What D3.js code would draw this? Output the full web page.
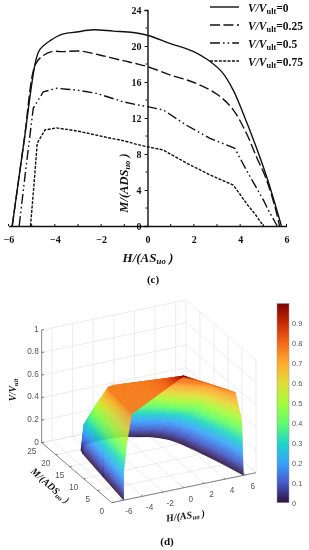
<!DOCTYPE html>
<html>
<head>
<meta charset="utf-8">
<style>
	html, body { margin: 0; padding: 0; background: #fff; }
	svg { display: block; filter: blur(0.35px); }
	.serif { font-family: "Liberation Serif", serif; font-weight: bold; fill: #111; }
	.sans { font-family: "Liberation Sans", sans-serif; fill: #555; font-size: 8.2px; }
	.barLabel { font-family: "Liberation Sans", sans-serif; fill: #555; font-size: 7.4px; }
</style>
<script src="https://cdn.jsdelivr.net/npm/d3@7"></script>
</head>
<body>
<div id="chartDiv"></div>
<script>
; (function () {

	// curves, same number of points so panel (d) can mesh them
	var h0 = [-5.84, -5.34, -4.82, -4.65, -4.2, -3.7, -3.06, -2.35, -1.48, -0.62, 0, 0.96, 1.97, 2.55, 3.2, 3.7, 4.13, 4.63, 5.14, 5.78];
	var m0 = [0, 9.2, 18.4, 19.6, 20.6, 21.3, 21.55, 21.8, 21.65, 21.5, 21.2, 20.3, 19.4, 18.55, 17.15, 15.1, 12.5, 9.2, 5.5, 0];
	var h25 = [-5.84, -5.34, -4.85, -4.58, -4.14, -3.64, -2.92, -2.06, -1.05, -0.5, 0, 0.96, 2.1, 3.05, 3.7, 4.27, 4.7, 5.1, 5.5, 5.7];
	var m25 = [0, 9.2, 17.9, 18.8, 19.37, 19.37, 19.44, 19, 18.37, 18.05, 17.7, 16.8, 15.85, 14.55, 12.9, 10.3, 7.7, 5.4, 2.15, 0];
	var h50 = [-5.54, -5.24, -4.93, -4.5, -3.93, -3.5, -3.06, -2.2, -1.05, -0.5, 0, 0.68, 1.68, 2.7, 3.77, 4.27, 4.6, 5, 5.25, 5.6];
	var m50 = [0, 6.6, 13.1, 14.9, 15.3, 15.2, 15.1, 14.74, 13.8, 13.5, 13.26, 12.9, 11.2, 9.74, 8.63, 6.2, 4.7, 2.9, 1.6, 0];
	var h75 = [-5.05, -4.9, -4.76, -4.43, -3.93, -3.4, -2.92, -1.77, -1, -0.5, 0, 0.68, 1.68, 2.7, 3.2, 3.7, 4, 4.27, 4.65, 5];
	var m75 = [0, 4.6, 9.2, 10.67, 10.9, 10.7, 10.5, 9.85, 9.45, 9.1, 8.8, 8.44, 7, 5.67, 5.1, 4.55, 3.5, 2.5, 1.3, 0];

	var vLevels = [0, 0.25, 0.5, 0.75];
	var vLabels = ["0", "0.25", "0.5", "0.75"];
	var peak = { h: 0, m: 0, v: 0.99 };

	var hTicks2d = [-6, -4, -2, 0, 2, 4, 6];
	var hMinor2d = [-6, -5, -4, -3, -2, -1, 1, 2, 3, 4, 5, 6];
	var mTicks2d = [0, 4, 8, 12, 16, 20, 24];
	var mMinor2d = [2, 6, 10, 14, 18, 22];

	var hTicks3d = [-6, -4, -2, 0, 2, 4, 6];
	var mTicks3d = [0, 5, 10, 15, 20, 25];
	var vTicks3d = [0, 0.2, 0.4, 0.6, 0.8, 1];
	var barTicks = [0, 0.1, 0.2, 0.3, 0.4, 0.5, 0.6, 0.7, 0.8, 0.9];

	var colorStops = [0, 0.1, 0.2, 0.3, 0.4, 0.5, 0.6, 0.7, 0.8, 0.9, 1];
	var colorValues = ["#30123b", "#455bcd", "#39a2fc", "#1fd5c6", "#61fc6c", "#a4fc3c", "#e1dd37", "#feab30", "#f36a19", "#cb2a04", "#7a0403"];

	var dashes = [null, "10,3.5", "10,3,1.6,3,1.6,3", "3,1.4"];

	var width = 309;
	var height = 550;

	var curves = [
		{ h: h0, m: m0 },
		{ h: h25, m: m25 },
		{ h: h50, m: m50 },
		{ h: h75, m: m75 }
	];

	var chart;
	var color = d3.scaleLinear().domain(colorStops).range(colorValues);

	init();

	function init() {
		chart = d3.select("#chartDiv").append("svg")
			.attr("width", width)
			.attr("height", height);

		drawCurves();
		drawSurface();
		drawColorbar();
	}

	function labelText(sel, parts) {
		// parts: [text, subscript, text]
		sel.append("tspan").text(parts[0]);
		sel.append("tspan").attr("dy", "0.25em").style("font-size", "0.68em").text(parts[1]);
		sel.append("tspan").attr("dy", "-0.17em").text(parts[2]);
	}

	function drawCurves() {
		var x = d3.scaleLinear().domain([-6, 6]).range([8.5, 286.5]);
		var y = d3.scaleLinear().domain([0, 24]).range([226, 10]);

		var line = d3.line()
			.x(function (d) { return x(d[0]); })
			.y(function (d) { return y(d[1]); });

		var g = chart.append("g");

		curves.forEach(function (c, i) {
			// the two upper curves are smooth, the lower two have visible kinks
			line.curve(i < 2 ? d3.curveCatmullRom.alpha(0.5) : d3.curveLinear);
			g.append("path")
				.attr("d", line(d3.zip(c.h, c.m)))
				.attr("fill", "none")
				.attr("stroke", "#111")
				.attr("stroke-width", 1.4)
				.attr("stroke-dasharray", dashes[i]);
		});

		var xAxis = d3.axisBottom(x).tickValues(hTicks2d).tickSize(0).tickPadding(10).tickFormat(d3.format("d"));
		var yAxis = d3.axisLeft(y).tickValues(mTicks2d).tickSize(3).tickPadding(3).tickFormat(d3.format("d"));

		var xg = g.append("g").attr("transform", "translate(0," + y(0) + ")").call(xAxis);
		var yg = g.append("g").attr("transform", "translate(" + x(0) + ",0)").call(yAxis);

		[xg, yg].forEach(function (a) {
			a.selectAll(".domain").attr("stroke", "#111").attr("stroke-width", 1.4);
			a.selectAll("line").attr("stroke", "#111").attr("stroke-width", 1);
			a.selectAll("text").attr("class", "serif").style("font-size", "10px");
		});

		xg.selectAll(".minor").data(hMinor2d).enter().append("line")
			.attr("x1", function (d) { return x(d); })
			.attr("x2", function (d) { return x(d); })
			.attr("y1", 0).attr("y2", -2)
			.attr("stroke", "#111");

		yg.selectAll(".minor").data(mMinor2d).enter().append("line")
			.attr("x1", 0).attr("x2", -2)
			.attr("y1", function (d) { return y(d); })
			.attr("y2", function (d) { return y(d); })
			.attr("stroke", "#111");

		chart.append("text")
			.attr("class", "serif")
			.attr("text-anchor", "middle")
			.attr("transform", "translate(128,183) rotate(-90)")
			.style("font-size", "12.5px")
			.style("font-style", "italic")
			.call(labelText, ["M/(ADS", "uo", " )"]);

		chart.append("text")
			.attr("class", "serif")
			.attr("text-anchor", "middle")
			.attr("x", 148)
			.attr("y", 262)
			.style("font-size", "13px")
			.style("font-style", "italic")
			.call(labelText, ["H/(AS", "uo", " )"]);

		chart.append("text")
			.attr("class", "serif")
			.attr("text-anchor", "middle")
			.attr("x", 153)
			.attr("y", 283)
			.style("font-size", "11px")
			.text("(c)");

		// legend
		var legendY = d3.scaleLinear().domain([0, 3]).range([7, 61]);
		vLabels.forEach(function (label, i) {
			chart.append("line")
				.attr("x1", 210).attr("x2", 239)
				.attr("y1", legendY(i)).attr("y2", legendY(i))
				.attr("stroke", "#111")
				.attr("stroke-width", 1.4)
				.attr("stroke-dasharray", dashes[i]);

			var t = chart.append("text")
				.attr("class", "serif")
				.attr("x", 248)
				.attr("y", legendY(i) + 5)
				.style("font-size", "11.5px");
			t.append("tspan").style("font-style", "italic").text("V/V");
			t.append("tspan").attr("dy", "0.2em").style("font-size", "0.72em").text("ult");
			t.append("tspan").attr("dy", "-0.14em").text("=" + label);
		});
	}

	function drawSurface() {
		// box corners come from the three axes of the 3d view
		var hScale = d3.scaleLinear().domain([-7, 7]);
		var mScale = d3.scaleLinear().domain([0, 25]);
		var vScale = d3.scaleLinear().domain([0, 1]);

		var origin = { x: 111.7, y: 502.7 };
		var hVec = { x: 144.3, y: -30 };
		var mVec = { x: -70, y: -60 };
		var vVec = { x: 0, y: -112.7 };

		function project(h, m, v) {
			var a = hScale(h), b = mScale(m), c = vScale(v);
			return [
				origin.x + a * hVec.x + b * mVec.x + c * vVec.x,
				origin.y + a * hVec.y + b * mVec.y + c * vVec.y
			];
		}

		function depth(h, m, v) {
			return 8.4 * h + 30.9 * m - 0.82 * v;
		}

		var grid = chart.append("g")
			.attr("fill", "none")
			.attr("stroke", "#e4e4e4")
			.attr("stroke-width", 0.7);

		function seg(parent, a, b) {
			var p = project(a[0], a[1], a[2]);
			var q = project(b[0], b[1], b[2]);
			return parent.append("line")
				.attr("x1", p[0]).attr("y1", p[1])
				.attr("x2", q[0]).attr("y2", q[1]);
		}

		hTicks3d.forEach(function (h) {
			seg(grid, [h, 0, 0], [h, 25, 0]);
			seg(grid, [h, 25, 0], [h, 25, 1]);
		});
		mTicks3d.forEach(function (m) {
			seg(grid, [-7, m, 0], [7, m, 0]);
			seg(grid, [7, m, 0], [7, m, 1]);
		});
		vTicks3d.forEach(function (v) {
			seg(grid, [-7, 25, v], [7, 25, v]);
			seg(grid, [7, 25, v], [7, 0, v]);
		});
		seg(grid, [7, 0, 0], [7, 25, 0]);

		// mesh between the level curves, split up so the fill runs smooth
		var quads = [];
		var rows = 32;
		var nCols = h0.length;

		for (var lev = 0; lev < curves.length - 1; lev++) {
			for (var r = 0; r < rows; r++) {
				var t0 = r / rows;
				var t1 = (r + 1) / rows;
				for (var c = 0; c < nCols - 1; c++) {
					quads.push(makeQuad(lev, c, t0, t1));
				}
			}
		}

		function at(lev, c, t) {
			var a = curves[lev];
			var b = curves[lev + 1];
			return {
				h: a.h[c] + (b.h[c] - a.h[c]) * t,
				m: a.m[c] + (b.m[c] - a.m[c]) * t,
				v: vLevels[lev] + (vLevels[lev + 1] - vLevels[lev]) * t
			};
		}

		function makeQuad(lev, c, t0, t1) {
			var pts = [at(lev, c, t0), at(lev, c + 1, t0), at(lev, c + 1, t1), at(lev, c, t1)];
			return {
				pts: pts,
				v: (pts[0].v + pts[3].v) / 2,
				d: d3.mean(pts, function (p) { return depth(p.h, p.m, p.v); })
			};
		}

		quads.sort(function (a, b) { return b.d - a.d; });

		// cap from the last level curve up to the peak
		var capRows = 16;
		var top = curves[3];
		var capV = function (t) { return 0.75 + (peak.v - 0.75) * Math.pow(t, 5); };
		var capQuads = [];
		for (var cr = 0; cr < capRows; cr++) {
			var s0 = cr / capRows;
			var s1 = (cr + 1) / capRows;
			for (var cc = 0; cc < nCols - 1; cc++) {
				capQuads.push({
					pts: [capPoint(cc, s0), capPoint(cc + 1, s0), capPoint(cc + 1, s1), capPoint(cc, s1)],
					v: capV((s0 + s1) / 2) + 0.02
				});
			}
		}

		function capPoint(c, s) {
			return {
				h: top.h[c] + (peak.h - top.h[c]) * s,
				m: top.m[c] + (peak.m - top.m[c]) * s,
				v: 0.75 + (peak.v - 0.75) * s
			};
		}

		var surf = chart.append("g");
		surf.selectAll("polygon.wall").data(quads.concat(capQuads)).enter().append("polygon")
			.attr("points", function (d) {
				return d.pts.map(function (p) { return project(p.h, p.m, p.v).join(","); }).join(" ");
			})
			.attr("fill", function (d) { return color(d.v); })
			.attr("stroke", function (d) { return color(d.v); })
			.attr("stroke-width", 0.3);

		// the three axes that carry ticks
		var axes = chart.append("g")
			.attr("stroke", "#666")
			.attr("stroke-width", 0.8);
		seg(axes, [-7, 25, 0], [-7, 25, 1]);
		seg(axes, [-7, 25, 0], [-7, 0, 0]);
		seg(axes, [-7, 0, 0], [7, 0, 0]);

		function tickLabel(p, dx, dy, txt) {
			chart.append("text")
				.attr("class", "sans")
				.attr("text-anchor", "middle")
				.attr("x", p[0] + dx)
				.attr("y", p[1] + dy)
				.attr("dy", "0.35em")
				.text(txt);
		}

		vTicks3d.forEach(function (v) {
			var p = project(-7, 25, v);
			chart.append("line")
				.attr("x1", p[0]).attr("x2", p[0] + 2)
				.attr("y1", p[1]).attr("y2", p[1] - 0.5)
				.attr("stroke", "#666");
			chart.append("text")
				.attr("class", "sans")
				.attr("text-anchor", "end")
				.attr("x", p[0] - 3)
				.attr("y", p[1] - 1)
				.attr("dy", "0.35em")
				.text(d3.format("~g")(v));
		});
		mTicks3d.forEach(function (m) {
			var p = project(-7, m, 0);
			seg(axes, [-7, m, 0], [-6.8, m, 0]);
			tickLabel(p, -10, 8, String(m));
		});
		hTicks3d.forEach(function (h) {
			var p = project(h, 0, 0);
			seg(axes, [h, 0, 0], [h, 0.5, 0]);
			tickLabel(p, 7, 11, String(h));
		});

		chart.append("text")
			.attr("class", "serif")
			.attr("text-anchor", "middle")
			.attr("transform", "translate(16,390) rotate(-90)")
			.style("font-size", "9.5px")
			.style("font-style", "italic")
			.call(labelText, ["V/V", "ult", ""]);

		chart.append("text")
			.attr("class", "serif")
			.attr("text-anchor", "middle")
			.attr("transform", "translate(48,488) rotate(42)")
			.style("font-size", "10px")
			.style("font-style", "italic")
			.call(labelText, ["M/(ADS", "uo", " )"]);

		chart.append("text")
			.attr("class", "serif")
			.attr("text-anchor", "middle")
			.attr("transform", "translate(186,519) rotate(-8)")
			.style("font-size", "10px")
			.style("font-style", "italic")
			.call(labelText, ["H/(AS", "uo", " )"]);

		chart.append("text")
			.attr("class", "serif")
			.attr("text-anchor", "middle")
			.attr("x", 167)
			.attr("y", 545)
			.style("font-size", "11px")
			.text("(d)");
	}

	function drawColorbar() {
		var barY = d3.scaleLinear().domain([0, 1]).range([502.7, 303.5]);
		var barX = 277;
		var barW = 12;

		var grad = chart.append("defs").append("linearGradient")
			.attr("id", "turboBar")
			.attr("x1", 0).attr("x2", 0).attr("y1", 1).attr("y2", 0);
		grad.selectAll("stop").data(colorStops).enter().append("stop")
			.attr("offset", function (d) { return d; })
			.attr("stop-color", function (d) { return color(d); });

		chart.append("rect")
			.attr("x", barX)
			.attr("y", barY(1))
			.attr("width", barW)
			.attr("height", barY(0) - barY(1))
			.attr("fill", "url(#turboBar)")
			.attr("stroke", "#999")
			.attr("stroke-width", 0.5);

		var axis = d3.axisRight(barY).tickValues(barTicks).tickSize(0).tickPadding(3).tickFormat(d3.format("~g"));
		var g = chart.append("g")
			.attr("transform", "translate(" + (barX + barW) + ",0)")
			.call(axis);
		g.select(".domain").remove();
		g.selectAll("text").attr("class", "barLabel");
	}

})();
</script>
</body>
</html>
